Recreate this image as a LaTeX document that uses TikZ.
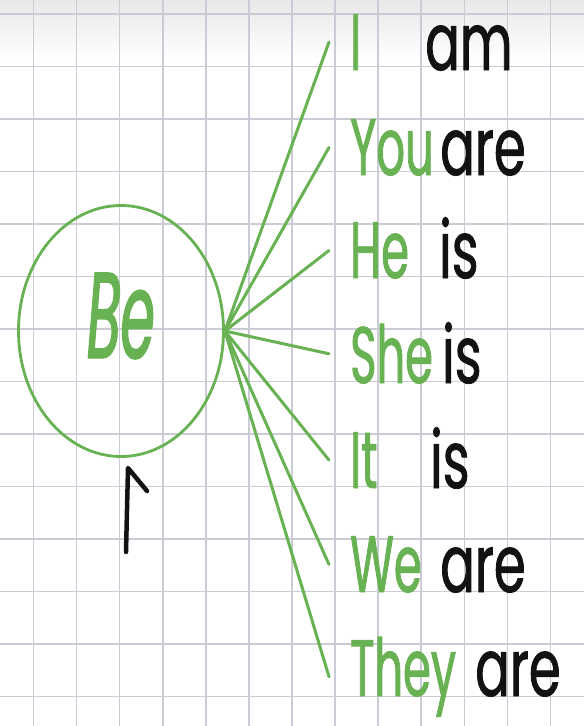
\documentclass[tikz,border=0pt]{standalone}
\usepackage{fontspec}
\newfontfamily\handfont{Poppins}[FakeStretch=0.56,FakeBold=1.0]
\newfontfamily\verbfont{Poppins}[FakeStretch=0.64,FakeBold=1.0]
\newfontfamily\befont{Poppins}[FakeStretch=0.45,FakeSlant=0.08,FakeBold=1.2]
\usepackage{tikz}
\usetikzlibrary{shapes.geometric,calc}
\definecolor{pen}{RGB}{104,178,84}
\definecolor{ink}{RGB}{18,18,18}
\definecolor{gridline}{RGB}{202,203,212}

\begin{document}
\begin{tikzpicture}[x=1pt, y=-1pt,
  gridrule/.style={gridline, line width=1.6pt},
  spoke/.style={pen, line width=3pt, line cap=round},
  pron/.style={font=\handfont\fontsize{80}{80}\selectfont, text=pen, inner sep=0pt, anchor=base west},
  verb/.style={font=\verbfont\fontsize{80}{80}\selectfont, text=ink, inner sep=0pt, anchor=base west}]
\useasboundingbox (0,0) rectangle (584,726);
% ---- squared paper
\fill[white] (0,0) rectangle (584,726);
\shade[top color=gray!18, bottom color=white] (0,0) rectangle (584,60);
\foreach \k in {0,...,12}
  \draw[gridrule] ({33.5+43.08*\k},0) -- ({33.5+43.08*\k},726);
\foreach \k in {0,...,13}
  \draw[gridrule] (0,{14+52.5*\k}) -- (584,{14+52.5*\k});
% ---- the verb in its ring
\node[ellipse, draw=pen, line width=2.8pt, minimum width=205pt, minimum height=251pt] (be) at (121,331) {};
\node[font=\befont\fontsize{122}{122}\selectfont, text=pen, anchor=base] (beword) at (118,358) {Be};
% ---- pronoun + form, one spoke each
\foreach \p/\v/\y/\vx/\n in {I/am/70/425/i, You/are/175/440/you, He/is/278/439/he,
    She/is/383/442/she, It/is/488/430/it, We/are/592/440/we, They/are/696/475/they} {
  \node[pron] (\n) at (350,\y) {\p};
  \node[verb] (\n-v) at (\vx,\y) {\v};
  \draw[spoke] (be.east) -- ([xshift=-21pt]\n.west);
}
% ---- arrow under the ring
\coordinate (tail) at (126,552);
\coordinate (tip) at (128,468);
\draw[ink, line width=4.5pt, line cap=round, line join=round] (tail) -- (tip) -- (147,491);
\end{tikzpicture}
\end{document}
